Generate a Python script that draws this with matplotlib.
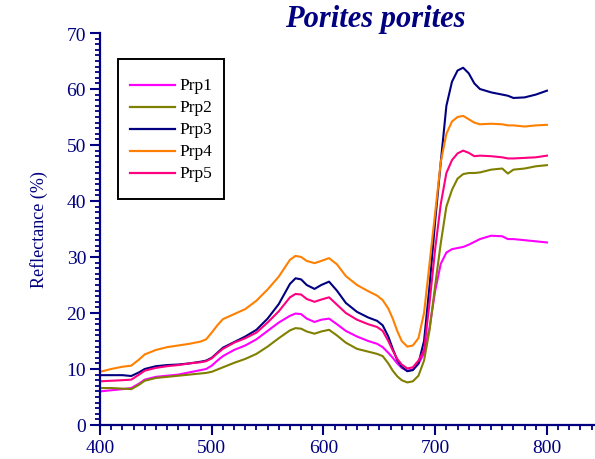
import matplotlib
matplotlib.use("Agg")
import matplotlib.pyplot as plt
from matplotlib.ticker import MultipleLocator
from matplotlib.patches import Rectangle
from matplotlib.lines import Line2D

# Wavelength grid (nm)
wavelength = [400, 410, 420, 428, 435, 440, 450, 460, 470, 480, 490, 495, 500, 505, 510,
              520, 530, 540, 550, 560, 570, 575, 580, 585, 592, 598, 605, 612, 620, 630,
              640, 648, 653, 658, 662, 666, 670, 675, 680, 685, 690, 695, 700, 705, 710,
              715, 720, 725, 730, 735, 740, 750, 760, 765, 770, 780, 790, 800]

# Reflectance (%) per sample
prp1 = [6.0, 6.2, 6.4, 6.6, 7.4, 8.1, 8.6, 8.8, 9.0, 9.4, 9.8, 10.0, 10.6, 11.5, 12.3,
        13.4, 14.2, 15.3, 16.8, 18.3, 19.5, 19.9, 19.8, 19.0, 18.4, 18.8, 19.0, 18.0, 16.8, 15.8,
        15.0, 14.5, 13.9, 12.9, 12.0, 11.0, 10.2, 9.7, 9.9, 10.9, 12.8, 17.5, 24.0, 28.8, 30.8,
        31.4, 31.6, 31.8, 32.2, 32.7, 33.2, 33.8, 33.7, 33.2, 33.2, 33.0, 32.8, 32.6]
prp2 = [6.6, 6.6, 6.5, 6.4, 7.2, 7.9, 8.4, 8.6, 8.8, 9.0, 9.2, 9.3, 9.5, 9.9, 10.3,
        11.1, 11.8, 12.7, 14.0, 15.5, 16.9, 17.3, 17.2, 16.7, 16.3, 16.7, 17.0, 16.0, 14.7, 13.6,
        13.1, 12.7, 12.3, 11.0, 9.7, 8.7, 8.0, 7.6, 7.8, 8.8, 11.5, 17.0, 25.0, 32.5, 39.0,
        42.0, 44.0, 44.8, 45.0, 45.0, 45.1, 45.6, 45.8, 44.9, 45.6, 45.8, 46.2, 46.4]
prp3 = [8.9, 8.9, 8.9, 8.75, 9.4, 10.0, 10.5, 10.7, 10.8, 11.0, 11.3, 11.5, 12.0, 12.9, 13.8,
        14.8, 15.8, 17.0, 19.0, 21.6, 25.2, 26.2, 26.0, 25.0, 24.3, 25.0, 25.6, 24.0, 21.8, 20.2,
        19.2, 18.6, 17.8, 15.8, 13.6, 11.6, 10.4, 9.6, 9.8, 11.0, 15.0, 25.0, 36.5, 47.0, 57.0,
        61.3, 63.3, 63.8, 62.8, 61.0, 60.0, 59.4, 59.0, 58.8, 58.4, 58.5, 59.0, 59.7]
prp4 = [9.5, 10.0, 10.4, 10.6, 11.7, 12.6, 13.4, 13.9, 14.2, 14.5, 14.9, 15.3, 16.5, 17.8, 18.9,
        19.8, 20.7, 22.2, 24.2, 26.5, 29.5, 30.2, 30.0, 29.3, 28.9, 29.3, 29.8, 28.7, 26.6, 25.0,
        23.9, 23.1, 22.3, 20.8, 19.0, 16.8, 15.0, 14.0, 14.2, 15.5, 20.0, 29.0, 38.0, 47.0, 52.0,
        54.2, 55.0, 55.2, 54.6, 54.0, 53.7, 53.8, 53.7, 53.5, 53.5, 53.3, 53.5, 53.6]
prp5 = [7.8, 7.9, 8.0, 8.1, 9.0, 9.7, 10.2, 10.5, 10.7, 11.0, 11.2, 11.4, 11.9, 12.8, 13.6,
        14.7, 15.5, 16.5, 18.3, 20.3, 22.8, 23.4, 23.3, 22.5, 22.0, 22.4, 22.8, 21.5, 20.0, 18.8,
        18.0, 17.5, 16.8, 15.0, 13.3, 11.8, 10.8, 10.1, 10.3, 11.5, 13.3, 22.0, 31.5, 39.5, 45.0,
        47.3, 48.5, 49.0, 48.6, 48.0, 48.1, 48.0, 47.8, 47.6, 47.6, 47.7, 47.8, 48.1]

series_names = ["Prp1", "Prp2", "Prp3", "Prp4", "Prp5"]
series_values = [prp1, prp2, prp3, prp4, prp5]
series_colors = ["#FF00FF", "#808000", "#000080", "#FF8000", "#FF0080"]

x_ticks = [400, 500, 600, 700, 800]
y_ticks = [0, 10, 20, 30, 40, 50, 60, 70]

navy = "#000080"
serif = ["Liberation Serif", "DejaVu Serif"]

W, H = 595, 460
fig = plt.figure(figsize=(W / 100, H / 100), dpi=100)
ax = fig.add_axes([100 / W, 34 / H, 495 / W, 392 / H])

for name, vals, col in zip(series_names, series_values, series_colors):
    ax.plot(wavelength, vals, color=col, lw=1.5, label=name)

ax.set_xlim(400, 843)
ax.set_ylim(0, 70)
ax.set_xticks(x_ticks)
ax.set_yticks(y_ticks)
ax.xaxis.set_minor_locator(MultipleLocator(10))
ax.yaxis.set_minor_locator(MultipleLocator(1))

for side in ("top", "right"):
    ax.spines[side].set_visible(False)
for side in ("left", "bottom"):
    ax.spines[side].set_color(navy)
    ax.spines[side].set_linewidth(1.6)

ax.tick_params(which="major", direction="out", length=7, width=1.5, color=navy,
               labelcolor=navy, labelsize=14, pad=3)
ax.tick_params(which="minor", direction="out", length=3.5, width=1.3, color=navy)
for lab in ax.get_xticklabels() + ax.get_yticklabels():
    lab.set_fontfamily(serif)

ax.set_ylabel("Reflectance (%)", color=navy, fontsize=13, family=serif, labelpad=13)

fig.text(375 / W, 1 - 20 / H, "Porites porites", ha="center", va="center",
         color=navy, fontsize=22, fontweight="bold", fontstyle="italic", family=serif)

# Legend box drawn in figure pixel space (y measured from the top)
def fx(px):
    return px / W

def fy(py):
    return 1 - py / H

box_l, box_t, box_r, box_b = 118, 60, 224, 200
fig.add_artist(Rectangle((fx(box_l), fy(box_b)), fx(box_r - box_l), (box_b - box_t) / H,
                         transform=fig.transFigure, facecolor="white",
                         edgecolor="black", linewidth=1.4, zorder=5))
row_y = [86, 108, 130, 152, 174]
for name, col, ry in zip(series_names, series_colors, row_y):
    fig.add_artist(Line2D([fx(130), fx(175)], [fy(ry), fy(ry)], transform=fig.transFigure,
                          color=col, linewidth=1.6, zorder=6))
    fig.text(fx(179), fy(ry), name, ha="left", va="center", color="black",
             fontsize=12.5, family=serif, zorder=6)

fig.savefig("out.png", dpi=100)
